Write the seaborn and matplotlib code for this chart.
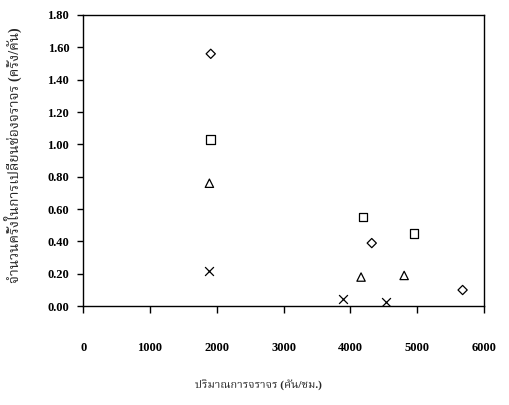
import matplotlib
matplotlib.use("Agg")
import matplotlib.pyplot as plt
import seaborn as sns
import pandas as pd

series_names = ["diamond", "square", "triangle", "cross"]
diamond_x = [1910, 4320, 5680]
diamond_y = [1.56, 0.39, 0.10]
square_x = [1905, 4190, 4955]
square_y = [1.03, 0.55, 0.45]
triangle_x = [1890, 4160, 4805]
triangle_y = [0.76, 0.18, 0.19]
cross_x = [1890, 3890, 4540]
cross_y = [0.22, 0.045, 0.023]

x_ticks = [0, 1000, 2000, 3000, 4000, 5000, 6000]
y_ticks = [0.0, 0.2, 0.4, 0.6, 0.8, 1.0, 1.2, 1.4, 1.6, 1.8]
x_label = "ปริมาณการจราจร (คัน/ชม.)"
y_label = "จำนวนครั้งในการเปลี่ยนช่องจราจร (ครั้ง/คัน)"

df = pd.concat([
    pd.DataFrame({"x": diamond_x, "y": diamond_y, "s": "diamond"}),
    pd.DataFrame({"x": square_x, "y": square_y, "s": "square"}),
    pd.DataFrame({"x": triangle_x, "y": triangle_y, "s": "triangle"}),
    pd.DataFrame({"x": cross_x, "y": cross_y, "s": "cross"}),
])
markers = {"diamond": "D", "square": "s", "triangle": "^", "cross": "x"}
sizes = {"diamond": 22, "square": 38, "triangle": 36, "cross": 40}

sns.set_style("ticks")
fonts = ["Liberation Serif", "Noto Serif Thai", "FreeSerif", "DejaVu Sans"]
plt.rcParams["font.family"] = fonts
plt.rcParams["font.weight"] = "bold"

fig = plt.figure(figsize=(5.1, 4.05), dpi=100)
ax = fig.add_axes([0.163, 0.244, 0.786, 0.719])

for name in series_names:
    sub = df[df["s"] == name]
    if markers[name] == "x":
        sns.scatterplot(data=sub, x="x", y="y", marker="x", s=sizes[name],
                        color="black", linewidth=0.9, ax=ax, legend=False)
    else:
        sns.scatterplot(data=sub, x="x", y="y", marker=markers[name], s=sizes[name],
                        facecolor="none", edgecolor="black", linewidth=0.9,
                        ax=ax, legend=False)

ax.set_xlim(0, 6000)
ax.set_ylim(0, 1.8)
ax.set_xticks(x_ticks)
ax.set_yticks(y_ticks)
ax.set_yticklabels([f"{v:.2f}" for v in y_ticks])
for sp in ax.spines.values():
    sp.set_color("black")
    sp.set_linewidth(1.0)
ax.tick_params(axis="x", direction="out", length=5, width=1, pad=21,
               labelsize=9, colors="black")
ax.tick_params(axis="y", direction="out", length=4, width=1, pad=6,
               labelsize=9, colors="black")
for lab in ax.get_xticklabels() + ax.get_yticklabels():
    lab.set_fontweight("bold")
ax.set_xlabel(x_label, fontsize=8, fontweight="bold", family=fonts)
ax.set_ylabel(y_label, fontsize=10, fontweight="bold", family=fonts)
ax.xaxis.set_label_coords(0.438, -0.25)
ax.yaxis.set_label_coords(-0.152, 0.52)

fig.savefig("out.png", dpi=100, facecolor="white")
